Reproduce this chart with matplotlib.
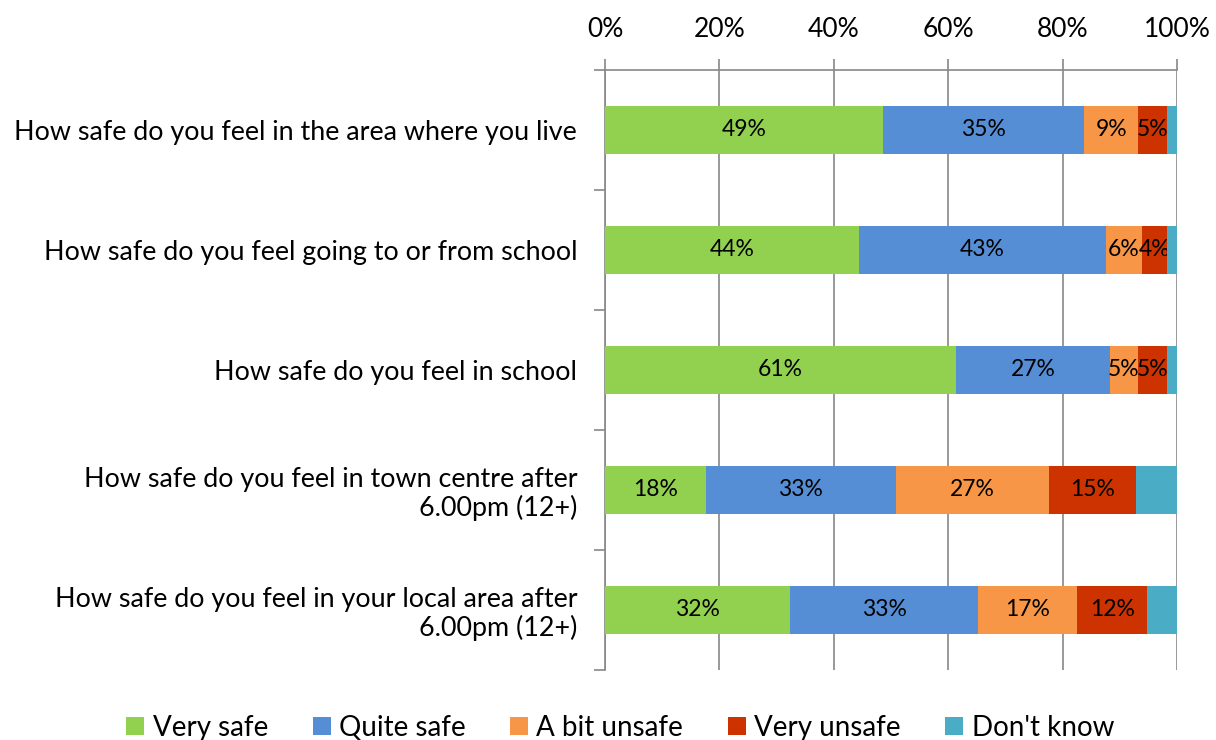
import numpy as np
import matplotlib
matplotlib.use("Agg")
import matplotlib.pyplot as plt

plt.rcParams['font.family'] = ['Lato', 'DejaVu Sans']

questions = [
    "How safe do you feel in the area where you live",
    "How safe do you feel going to or from school",
    "How safe do you feel in school",
    "How safe do you feel in town centre after\n6.00pm (12+)",
    "How safe do you feel in your local area after\n6.00pm (12+)",
]
series_names = ["Very safe", "Quite safe", "A bit unsafe", "Very unsafe", "Don't know"]
very_safe = [48.6, 44.4, 61.4, 17.7, 32.4]
quite_safe = [35.2, 43.1, 26.8, 33.1, 32.8]
bit_unsafe = [9.4, 6.4, 5.0, 26.8, 17.4]
very_unsafe = [5.1, 4.4, 5.1, 15.2, 12.2]
dont_know = [1.7, 1.7, 1.7, 7.2, 5.2]
colors = ["#92D050", "#558ED5", "#F79646", "#CC3300", "#4BACC6"]

series = [very_safe, quite_safe, bit_unsafe, very_unsafe, dont_know]

fig = plt.figure(figsize=(12.16, 7.4), dpi=100)
ax = fig.add_axes([605 / 1216, 70 / 740, 572 / 1216, 600 / 740])

y = np.arange(len(questions))
left = np.zeros(len(questions))
for i, (name, vals, c) in enumerate(zip(series_names, series, colors)):
    vals = np.array(vals)
    bars = ax.barh(y, vals, left=left, height=0.4, color=c, label=name, zorder=3)
    if i < 4:  # no labels on "Don't know"
        ax.bar_label(bars, labels=["%.0f%%" % v for v in vals], label_type='center',
                     fontsize=16.5, color='black')
    left += vals

ax.set_xlim(0, 100)
ax.set_ylim(len(questions) - 0.5, -0.5)
ax.xaxis.tick_top()
ax.set_xticks(np.arange(0, 101, 20))
ax.set_xticklabels(["%d%%" % t for t in range(0, 101, 20)], fontsize=19)
ax.tick_params(axis='x', length=8, color='#888888', width=1.2, pad=12)
ax.grid(axis='x', color='#888888', linewidth=1.2, zorder=0)

ax.set_yticks(y)
ax.set_yticklabels(questions, fontsize=19.4, ha='right', multialignment='right',
                   linespacing=1.15)
ax.set_yticks(np.arange(-0.5, len(questions) + 0.5, 1), minor=True)
ax.tick_params(axis='y', which='major', length=0, pad=20)
ax.tick_params(axis='y', which='minor', length=8, color='#888888', width=1.2)

for s in ['right', 'bottom']:
    ax.spines[s].set_visible(False)
for s in ['top', 'left']:
    ax.spines[s].set_color('#888888')
    ax.spines[s].set_linewidth(1.2)

leg = fig.legend(loc='lower center', bbox_to_anchor=(0.51, -0.035), ncol=5, frameon=False,
                 fontsize=20, handlelength=0.65, handleheight=0.65, handletextpad=0.3,
                 columnspacing=1.6)

fig.savefig("out.png", dpi=100)
